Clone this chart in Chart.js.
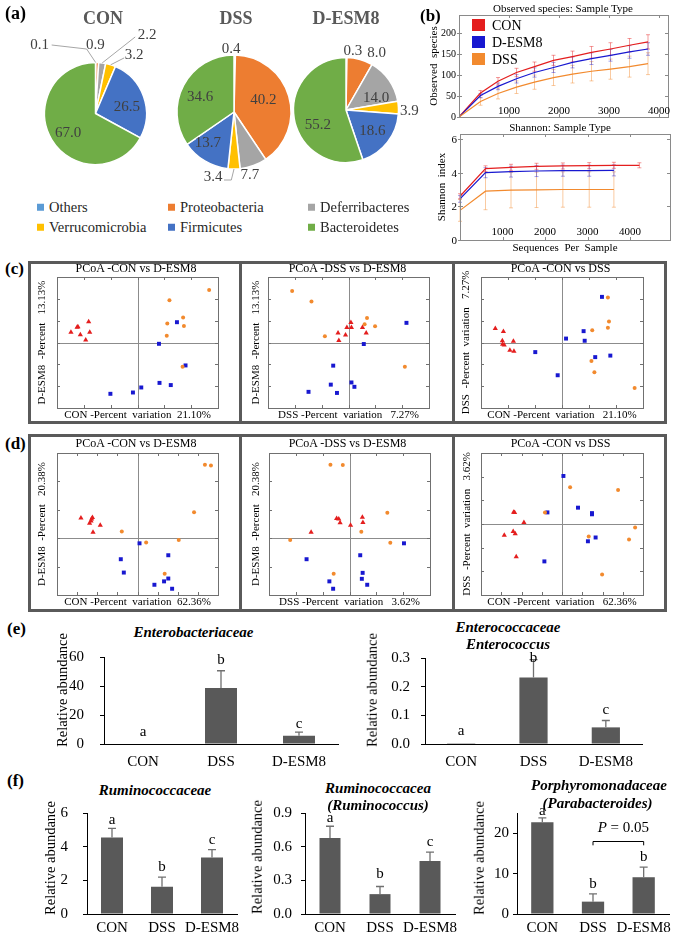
<!DOCTYPE html>
<html>
<head>
<meta charset="utf-8">
<title>Gut microbiota</title>
<script src="https://cdn.jsdelivr.net/npm/chart.js@4.4.1/dist/chart.umd.min.js"></script>
<style>
  html,body{margin:0;padding:0;background:#fff}
  #fig{position:relative;width:685px;height:936px;overflow:hidden;background:#fff;font-family:"Liberation Serif","Times New Roman",serif;color:#000}
  #fig canvas{position:absolute}
  .t{position:absolute;white-space:nowrap;transform:translate(-50%,-50%);line-height:1}
  .yt{position:absolute;white-space:nowrap;line-height:1;transform:translate(-100%,-50%);z-index:10;color:#000}
  .tag{position:absolute;font-weight:bold;font-size:17px;line-height:1;transform:translateY(-50%)}
  .box{position:absolute;border:3px solid #5a5a5a;box-sizing:border-box}
  .sep{position:absolute;width:3px;background:#5a5a5a}
  .lg{position:absolute;font-size:14.5px;line-height:1;white-space:nowrap;color:#262626;transform:translateY(-50%)}
  .lg i{display:inline-block;width:7px;height:7px;margin-right:5px;vertical-align:1px}
  .lb{position:absolute;font-size:14px;line-height:1;white-space:nowrap;transform:translateY(-50%)}
  .lb i{display:inline-block;width:13px;height:12px;margin-right:7px;vertical-align:-1px}
</style>
</head>
<body>
<div id="fig"></div>
<script>
// ---------- (a) phylum composition ----------
const phyla = ["Others","Proteobacteria","Deferribacteres","Verrucomicrobia","Firmicutes","Bacteroidetes"];
const pieCON  = [0.1, 0.9, 2.2, 3.2, 26.5, 67.0];
const pieDSS  = [0.4, 40.2, 7.7, 3.4, 13.7, 34.6];
const pieESM8 = [0.3, 8.0, 14.0, 3.9, 18.6, 55.2];

// ---------- (b) rarefaction ----------
const obsX   = [0, 430, 780, 1150, 1510, 1890, 2270, 2650, 3030, 3410, 3780];
const obsCON = [0, 57, 85, 106, 120, 135, 144, 154, 162, 171, 179];
const obsESM = [0, 51, 73, 91, 106, 118, 130, 139, 147, 155, 162];
const obsDSS = [0, 37, 56, 71, 83, 94, 102, 109, 114, 120, 127];
const obsCONerr = [0, 6, 9, 10, 11, 12, 13, 14, 15, 16, 17];
const obsESMerr = [0, 5, 8, 10, 11, 12, 13, 14, 14, 15, 15];
const obsDSSerr = [0, 9, 13, 15, 17, 19, 21, 23, 24, 25, 26];
const obsXTicks = [1000, 2000, 3000, 4000];
const obsYTicks = [0, 50, 100, 150, 200];

const shX   = [0, 600, 1200, 1800, 2420, 3040, 3620, 4220];
const shCON = [2.6, 4.24, 4.32, 4.38, 4.4, 4.42, 4.44, 4.44];
const shESM = [2.44, 4.0, 4.06, 4.1, 4.12, 4.12, 4.14];
const shDSS = [1.76, 2.9, 2.96, 2.98, 3.0, 3.0, 3.0];
const shCONerr = [0.15, 0.17, 0.18, 0.18, 0.18, 0.18, 0.18, 0.15];
const shESMerr = [0.2, 0.3, 0.32, 0.33, 0.33, 0.33, 0.33];
const shDSSerr = [0.65, 1.1, 1.05, 1.05, 1.05, 1.05, 1.05];
const shXTicks = [1000, 2000, 3000, 4000];
const shYTicks = [0, 2, 4, 6];

// ---------- (c) PCoA, unweighted ----------
const c1CON = [[-0.248,0.047],[-0.222,0.072],[-0.225,0.070],[-0.182,0.095],[-0.213,0.035],[-0.178,0.047],[-0.193,0.012]];
const c1ESM = [[0.147,0.093],[0.080,-0.006],[0.179,-0.105],[0.082,-0.185],[0.124,-0.195],[0.014,-0.206],[-0.017,-0.229],[-0.101,-0.235]];
const c1DSS = [[0.267,0.241],[0.119,0.194],[0.170,0.115],[0.111,0.087],[0.173,0.076],[0.109,0.031],[0.168,-0.111]];
const c2CON = [[-0.039,0.044],[-0.036,0.009],[-0.011,0.034],[-0.006,0.069],[0.009,0.092],[0.011,0.069],[0.052,0.069],[0.066,0.044]];
const c2ESM = [[-0.057,-0.106],[-0.066,-0.193],[-0.149,-0.226],[-0.043,-0.231],[0.216,0.090],[0.057,-0.007],[0.011,-0.183],[0.022,-0.203]];
const c2DSS = [[-0.210,0.236],[-0.138,0.188],[-0.088,0.029],[0.069,0.112],[0.060,0.084],[0.099,0.075],[0.210,-0.111]];
const c3CON = [[-0.247,0.064],[-0.217,0.050],[-0.221,0.008],[-0.220,-0.008],[-0.214,-0.012],[-0.180,0.006],[-0.193,-0.035],[-0.178,-0.040]];
const c3ESM = [[-0.099,-0.044],[-0.016,-0.150],[0.015,0.018],[0.080,0.052],[0.084,0.008],[0.148,0.209],[0.123,-0.067],[0.179,-0.060]];
const c3DSS = [[0.170,0.206],[0.174,0.096],[0.170,0.067],[0.112,0.056],[0.109,-0.085],[0.120,-0.136],[0.269,-0.208]];

// ---------- (d) PCoA, weighted ----------
const d1CON = [[-0.281,0.071],[-0.238,0.053],[-0.231,0.061],[-0.224,0.073],[-0.228,0.068],[-0.185,0.046],[-0.221,0.021]];
const d1ESM = [[0.010,-0.018],[0.153,-0.060],[-0.083,-0.074],[-0.068,-0.121],[0.153,-0.142],[0.132,-0.152],[0.084,-0.164],[0.172,-0.178]];
const d1DSS = [[0.335,0.259],[0.365,0.256],[0.281,0.091],[0.205,-0.006],[0.043,-0.015],[-0.078,0.024],[0.135,-0.125]];
const d2CON = [[-0.048,0.069],[-0.040,0.068],[-0.035,0.054],[-0.143,0.021],[0.004,0.046],[0.048,0.074],[0.050,0.055]];
const d2ESM = [[-0.160,-0.074],[-0.075,-0.152],[-0.061,-0.178],[0.203,-0.018],[0.040,-0.060],[0.049,-0.122],[0.046,-0.143],[0.066,-0.164]];
const d2DSS = [[-0.071,0.259],[-0.025,0.258],[-0.221,-0.006],[-0.059,-0.125],[0.141,0.090],[0.044,0.023],[0.152,-0.016]];
const d3CON = [[-0.234,0.049],[-0.239,0.050],[-0.188,0.006],[-0.285,-0.048],[-0.241,-0.032],[-0.231,-0.041],[-0.226,-0.138]];
const d3ESM = [[-0.072,0.049],[-0.087,-0.158],[0.007,0.203],[0.079,0.069],[0.148,0.046],[0.148,0.041],[0.128,-0.073],[0.166,-0.057]];
const d3DSS = [[-0.084,0.049],[0.040,0.155],[0.277,0.144],[0.132,-0.053],[0.331,-0.066],[0.361,-0.015],[0.198,-0.213]];

// ---------- (e)/(f) relative abundance ----------
const barCats = ["CON","DSS","D-ESM8"];
const enterobac = [0.3, 38.8, 5.7],      enterobacErr = [0, 12.0, 2.5],      enterobacLet = ["a","b","c"];
const enterococ = [0.003, 0.232, 0.058], enterococErr = [0, 0.062, 0.024],   enterococLet = ["a","b","c"];
const rumino    = [4.56, 1.62, 3.36],    ruminoErr = [0.54, 0.58, 0.48],     ruminoLet = ["a","b","c"];
const ruminoG   = [0.678, 0.177, 0.472], ruminoGErr = [0.104, 0.068, 0.08],  ruminoGLet = ["a","b","c"];
const parabac   = [22.7, 3.06, 9.1],     parabacErr = [1.1, 1.9, 2.5],       parabacLet = ["a","b","b"];

// ---------- styles ----------
const phylaColors = ["#5B9BD5","#ED7D31","#A5A5A5","#FFC000","#4472C4","#70AD47"];
const cRed = "#E41E1E", cBlue = "#1818D0", cOrange = "#F28A2E";
const SERIF = '"Liberation Serif","Times New Roman",serif';

Chart.defaults.font.family = SERIF;
Chart.defaults.color = "#000";
Chart.defaults.animation = false;
Chart.defaults.responsive = false;
Chart.defaults.events = [];
Chart.defaults.plugins.legend.display = false;
Chart.defaults.plugins.tooltip.enabled = false;

const fig = document.getElementById("fig");
function canvasAt(r){
  const c = document.createElement("canvas");
  c.width = r.w; c.height = r.h;
  c.style.left = r.l+"px"; c.style.top = r.t+"px";
  c.style.width = r.w+"px"; c.style.height = r.h+"px";
  fig.appendChild(c);
  return c;
}
function text(s, x, y, css, cls){
  const d = document.createElement("div");
  d.className = cls || "t";
  d.style.left = x+"px"; d.style.top = y+"px";
  if (css) d.style.cssText += css;
  d.textContent = s;
  fig.appendChild(d);
}
function el(cls, css, html){
  const d = document.createElement("div");
  d.className = cls; d.style.cssText = css; if (html) d.innerHTML = html;
  fig.appendChild(d);
}
// pin scale sizes so the plot area lands where it should
const zeroPad = s => { s.paddingLeft = s.paddingRight = s.paddingTop = s.paddingBottom = 0; };
const fixW = w => s => { s.width = w; zeroPad(s); };
const fixH = h => s => { s.height = h; zeroPad(s); };
const useTicks = arr => s => { s.ticks = arr.map(v => ({value:v})); };
const pts = a => a.map(p => ({x:p[0], y:p[1]}));
const xy = (xs, ys) => ys.map((v,i) => ({x:xs[i], y:v}));

// ---------- plugins ----------
const pieLabels = {
  id:"pieLabels",
  afterDatasetsDraw(chart){
    const ds = chart.data.datasets[0], cfg = ds.lbl, ctx = chart.ctx;
    ctx.save();
    ctx.font = "15px "+SERIF; ctx.fillStyle = "#404040";
    ctx.textAlign = "center"; ctx.textBaseline = "middle";
    ctx.strokeStyle = "#a6a6a6"; ctx.lineWidth = 1;
    chart.getDatasetMeta(0).data.forEach((arc,i) => {
      const it = cfg[i];
      const p = arc.getProps(["x","y","startAngle","endAngle","outerRadius"], true);
      const a = (p.startAngle+p.endAngle)/2;
      const tx = p.x + Math.cos(a)*p.outerRadius*it.f + it.dx;
      const ty = p.y + Math.sin(a)*p.outerRadius*it.f + it.dy;
      if (it.to){
        const ex = p.x + Math.cos(a)*p.outerRadius, ey = p.y + Math.sin(a)*p.outerRadius;
        ctx.beginPath(); ctx.moveTo(ex, ey);
        if (it.via) ctx.lineTo(ex+it.via[0], ey+it.via[1]);
        ctx.lineTo(tx+it.to[0], ty+it.to[1]); ctx.stroke();
      }
      ctx.fillText(ds.data[i].toFixed(1), tx, ty);
    });
    ctx.restore();
  }
};

// box around the plot, inward ticks, optional zero cross and in-frame x labels
const frame = {
  id:"frame",
  afterDatasetsDraw(chart, args, o){
    const {ctx, chartArea:ca, scales:{x, y}} = chart;
    ctx.save();
    ctx.lineWidth = 1;
    ctx.strokeStyle = o.color || "#7a7a7a";
    ctx.strokeRect(Math.round(ca.left)+0.5, Math.round(ca.top)+0.5, Math.round(ca.width), Math.round(ca.height));
    const L = 3;
    ctx.beginPath();
    x.ticks.forEach(t => { const p = Math.round(x.getPixelForValue(t.value))+0.5;
      ctx.moveTo(p, ca.bottom); ctx.lineTo(p, ca.bottom-L); ctx.moveTo(p, ca.top); ctx.lineTo(p, ca.top+L); });
    y.ticks.forEach(t => { const p = Math.round(y.getPixelForValue(t.value))+0.5;
      ctx.moveTo(ca.left, p); ctx.lineTo(ca.left+L, p); ctx.moveTo(ca.right, p); ctx.lineTo(ca.right-L, p);
      if (o.labels){ ctx.moveTo(ca.left, p); ctx.lineTo(ca.left-2, p); } });
    ctx.stroke();
    if (o.labels){
      ctx.fillStyle = "#000"; ctx.textBaseline = "middle";
      ctx.font = "11px "+SERIF; ctx.textAlign = "center";
      x.ticks.forEach(t => ctx.fillText(String(t.value), x.getPixelForValue(t.value), ca.bottom - o.xDy));
    }
    ctx.restore();
  },
  beforeDatasetsDraw(chart, args, o){
    if (!o.cross) return;
    const {ctx, chartArea:ca, scales:{x, y}} = chart;
    ctx.save();
    ctx.lineWidth = 1; ctx.strokeStyle = "#8c8c8c";
    const px = Math.round(x.getPixelForValue(0))+0.5, py = Math.round(y.getPixelForValue(0))+0.5;
    ctx.beginPath();
    ctx.moveTo(px, ca.top); ctx.lineTo(px, ca.bottom);
    ctx.moveTo(ca.left, py); ctx.lineTo(ca.right, py);
    ctx.stroke();
    ctx.restore();
  }
};

const lineErr = {
  id:"lineErr",
  beforeDatasetsDraw(chart){
    const {ctx, scales:{y}} = chart;
    ctx.save(); ctx.lineWidth = 1;
    chart.data.datasets.forEach((ds, i) => {
      ctx.strokeStyle = ds.errColor;
      chart.getDatasetMeta(i).data.forEach((pt, j) => {
        const e = ds.err[j]; if (!e) return;
        const v = ds.data[j].y;
        const t = y.getPixelForValue(v+e), b = y.getPixelForValue(Math.max(v-e, y.min));
        ctx.beginPath();
        ctx.moveTo(pt.x, t); ctx.lineTo(pt.x, b);
        ctx.moveTo(pt.x-2, t); ctx.lineTo(pt.x+2, t);
        ctx.moveTo(pt.x-2, b); ctx.lineTo(pt.x+2, b);
        ctx.stroke();
      });
    });
    ctx.restore();
  }
};

const barMarks = {
  id:"barMarks",
  afterDatasetsDraw(chart){
    const {ctx, scales:{y}} = chart;
    const ds = chart.data.datasets[0], meta = chart.getDatasetMeta(0);
    ctx.save();
    ctx.strokeStyle = "#707070"; ctx.lineWidth = 1.3;
    ctx.font = "15px "+SERIF; ctx.fillStyle = "#000"; ctx.textAlign = "center"; ctx.textBaseline = "middle";
    meta.data.forEach((b, i) => {
      const top = y.getPixelForValue(ds.data[i] + ds.err[i]);
      if (ds.err[i] > 0){
        ctx.beginPath();
        ctx.moveTo(b.x, b.y); ctx.lineTo(b.x, top);
        ctx.moveTo(b.x-4, top); ctx.lineTo(b.x+4, top);
        ctx.stroke();
      }
      ctx.fillText(ds.letters[i], b.x, top - ds.gap[i]);
    });
    const br = ds.bracket;
    if (br){
      const x1 = meta.data[br.from].x, x2 = meta.data[br.to].x;
      const yb = Math.round(y.getPixelForValue(br.y))+0.5, yd = y.getPixelForValue(br.y-br.drop);
      ctx.strokeStyle = "#000"; ctx.lineWidth = 1;
      ctx.beginPath(); ctx.moveTo(x1, yd); ctx.lineTo(x1, yb); ctx.lineTo(x2, yb); ctx.lineTo(x2, yd); ctx.stroke();
      const ty = y.getPixelForValue(br.ty);
      ctx.textAlign = "left";
      ctx.font = "italic 15px "+SERIF; const w1 = ctx.measureText(br.italic).width;
      ctx.font = "15px "+SERIF; const w2 = ctx.measureText(br.rest).width;
      const sx = (x1+x2)/2 + br.shift - (w1+w2)/2;
      ctx.font = "italic 15px "+SERIF; ctx.fillText(br.italic, sx, ty);
      ctx.font = "15px "+SERIF; ctx.fillText(br.rest, sx+w1, ty);
    }
    ctx.restore();
  }
};

// ---------- (a) pies ----------
const conLbl = [
  {f:1, dx:-56, dy:-17.5, via:[-9,-13.5], to:[12,0]},
  {f:1, dx:-2, dy:-17},
  {f:1, dx:45, dy:-28, to:[-12,2]},
  {f:1, dx:23.5, dy:-9.9, to:[-10,3]},
  {f:.6, dx:2.5, dy:3.4},
  {f:.6, dx:-1, dy:3.8}
];
const dssLbl = [
  {f:1, dx:-3.5, dy:-6},
  {f:.6, dx:-3.5, dy:-2.5},
  {f:1, dx:-3.5, dy:9.5},
  {f:1, dx:-21, dy:8, via:[-2.7,11], to:[11,3]},
  {f:.6, dx:-8.5, dy:1.6},
  {f:.6, dx:-3.5, dy:0.9}
];
const esmLbl = [
  {f:1, dx:6.5, dy:-6},
  {f:1, dx:16.6, dy:-6},
  {f:.6, dx:4.4, dy:6.5},
  {f:1, dx:11, dy:3.5},
  {f:.6, dx:1.4, dy:2},
  {f:.6, dx:3, dy:9.7}
];

function pie(rect, g, values, lbl){
  const c = canvasAt(rect);
  const b = 0.75; // half border width
  new Chart(c, {
    type:"pie",
    data:{labels:phyla, datasets:[{data:values, lbl, backgroundColor:phylaColors, borderColor:"#fff", borderWidth:1.5, hoverOffset:0}]},
    options:{layout:{padding:{
      left:g.cx-g.r-b-rect.l, top:g.cy-g.r-b-rect.t,
      right:rect.l+rect.w-g.cx-g.r-b, bottom:rect.t+rect.h-g.cy-g.r-b}}},
    plugins:[pieLabels]
  });
}
pie({l:25, t:20, w:140, h:160}, {cx:95.5, cy:113.5, r:51}, pieCON, conLbl);
pie({l:165, t:20, w:135, h:165}, {cx:234, cy:112, r:57}, pieDSS, dssLbl);
pie({l:285, t:20, w:135, h:150}, {cx:346, cy:110, r:52.5}, pieESM8, esmLbl);

el("tag", "left:5px;top:13px;font-size:18px", "(a)");
text("CON", 103, 18, "font-weight:bold;font-size:18px;color:#595959");
text("DSS", 236, 18, "font-weight:bold;font-size:18px;color:#595959");
text("D-ESM8", 346, 18, "font-weight:bold;font-size:18px;color:#595959");
const lgCols = [37, 168, 308], lgRows = [207, 227];
phyla.forEach((p, i) => {
  el("lg", `left:${lgCols[i%3]}px;top:${lgRows[Math.floor(i/3)]}px`, `<i style="background:${phylaColors[i]}"></i>${p}`);
});

// ---------- (b) rarefaction curves ----------
function rare(rect, plot, xmax, ymax, xTicks, yTicks, series, yTitle, yTitlePad, xTitle, xDy, yFont){
  const c = canvasAt(rect);
  const ch = new Chart(c, {
    type:"line",
    data:{datasets:series.map(s => ({data:s.data, err:s.err, errColor:s.errColor, borderColor:s.color, borderWidth:1.2, pointRadius:0, tension:0, fill:false}))},
    options:{
      layout:{padding:{left:0, bottom:0, top:plot.t-rect.t, right:rect.l+rect.w-plot.r}},
      scales:{
        x:{type:"linear", min:0, max:xmax,
           ticks:{display:false},
           afterBuildTicks:useTicks(xTicks),
           grid:{display:false, drawTicks:false}, border:{display:false},
           title:{display:!!xTitle, text:xTitle, font:{size:11}, padding:{top:0, bottom:0.5}},
           afterFit:fixH(rect.t+rect.h-plot.b)},
        y:{min:0, max:ymax,
           ticks:{display:false},
           afterBuildTicks:useTicks(yTicks),
           grid:{display:false, drawTicks:false}, border:{display:false},
           title:{display:true, text:yTitle, font:{size:11}, padding:{top:yTitlePad, bottom:0}},
           afterFit:fixW(plot.l-rect.l)}
      },
      plugins:{frame:{color:"#8a8a8a", labels:true, xDy:xDy}}
    },
    plugins:[frame, lineErr]
  });
  return ch;
}
const obsChart = rare({l:420, t:12, w:265, h:118}, {l:459, t:15, r:668, b:117}, 4180, 243, obsXTicks, obsYTicks, [
  {data:xy(obsX, obsDSS), err:obsDSSerr, color:cOrange, errColor:"rgba(242,138,46,.45)"},
  {data:xy(obsX, obsESM), err:obsESMerr, color:cBlue,   errColor:"rgba(24,24,208,.4)"},
  {data:xy(obsX, obsCON), err:obsCONerr, color:cRed,    errColor:"rgba(228,30,30,.45)"}
], "Observed  species", 7.5, "", 5.5);
const shChart = rare({l:420, t:130, w:265, h:125}, {l:460, t:134, r:670, b:240}, 4940, 6.3, shXTicks, shYTicks, [
  {data:xy(shX, shDSS), err:shDSSerr, color:cOrange, errColor:"rgba(242,138,46,.45)"},
  {data:xy(shX, shESM), err:shESMerr, color:cBlue,   errColor:"rgba(24,24,208,.4)"},
  {data:xy(shX, shCON), err:shCONerr, color:cRed,    errColor:"rgba(228,30,30,.45)"}
], "Shannon  index", 15.4, "Sequences  Per  Sample", 8);

// y tick labels of (b), placed from each chart's own y scale
function yLabels(ch, left, top, values, size){
  const ys = ch.scales.y;
  values.forEach(v => text(String(v), left + ch.chartArea.left - 3, top + ys.getPixelForValue(v), `font-size:${size}px`, "yt"));
}
yLabels(obsChart, 420, 12, obsYTicks, 10);
yLabels(shChart, 420, 130, shYTicks, 11);

el("tag", "left:420px;top:15px", "(b)");
text("Observed  species:  Sample  Type", 563, 8, "font-size:11px");
text("Shannon:  Sample  Type", 560, 127, "font-size:11px");
[["CON", cRed, 26], ["D-ESM8", cBlue, 43], ["DSS", cOrange, 60]].forEach(([n, col, y]) => {
  el("lb", `left:472px;top:${y}px`, `<i style="background:${col}"></i>${n}`);
});

// ---------- (c)/(d) PCoA ----------
function pcoa(rect, plot, xr, yr, xTitle, yTitle, yPad, xPad, con, esm, dss){
  const c = canvasAt(rect);
  new Chart(c, {
    type:"scatter",
    data:{datasets:[
      {data:pts(dss), pointStyle:"circle",   pointRadius:2,   backgroundColor:cOrange, borderWidth:0},
      {data:pts(esm), pointStyle:"rect",     pointRadius:2.8, backgroundColor:cBlue,   borderWidth:0},
      {data:pts(con), pointStyle:"triangle", pointRadius:3,   backgroundColor:cRed,    borderWidth:0}
    ]},
    options:{
      layout:{padding:{left:0, bottom:0, top:plot.t-rect.t, right:rect.l+rect.w-plot.r}},
      scales:{
        x:{type:"linear", min:xr[0], max:xr[1], ticks:{display:false, stepSize:0.1, includeBounds:false},
           grid:{display:false}, border:{display:false},
           title:{display:true, text:xTitle, font:{size:11}, padding:{top:0, bottom:xPad}},
           afterFit:fixH(rect.t+rect.h-plot.b)},
        y:{type:"linear", min:yr[0], max:yr[1], ticks:{display:false, stepSize:0.1, includeBounds:false},
           grid:{display:false}, border:{display:false},
           title:{display:true, text:yTitle, font:{size:11}, padding:{top:yPad, bottom:0}},
           afterFit:fixW(plot.l-rect.l)}
      },
      plugins:{frame:{cross:true, color:"#707070"}}
    },
    plugins:[frame]
  });
}
// frames
el("box", "left:28px;top:261px;width:639px;height:163px");
el("sep", "left:239px;top:261px;height:163px");
el("sep", "left:452px;top:261px;height:163px");
el("box", "left:28px;top:434px;width:639px;height:178px");
el("sep", "left:239px;top:434px;height:178px");
el("sep", "left:452px;top:434px;height:178px");
el("tag", "left:5px;top:268px", "(c)");
el("tag", "left:5px;top:443px", "(d)");

const C = [-0.3, 0.3], D4 = [-0.4, 0.4], DY = [-0.2, 0.3];
pcoa({l:31, t:264, w:208, h:158}, {l:57, t:277, r:218, b:408}, C, C,
  "CON -Percent  variation  21.10%", "D-ESM8  -Percent   13.13%", 4.1, 0.4, c1CON, c1ESM, c1DSS);
pcoa({l:244, t:264, w:208, h:158}, {l:268, t:277, r:429, b:408}, C, C,
  "DSS -Percent  variation   7.27%", "D-ESM8  -Percent   13.13%", 5.1, 0.4, c2CON, c2ESM, c2DSS);
pcoa({l:457, t:264, w:208, h:158}, {l:481, t:277, r:643, b:408}, C, C,
  "CON -Percent  variation   21.10%", "DSS  -Percent  variation   7.27%", 2.1, 0.4, c3CON, c3ESM, c3DSS);
pcoa({l:31, t:437, w:208, h:173}, {l:57, t:453, r:218, b:595}, D4, DY,
  "CON -Percent  variation  62.36%", "D-ESM8  -Percent   20.38%", 4.9, 1.4, d1CON, d1ESM, d1DSS);
pcoa({l:244, t:437, w:208, h:173}, {l:269, t:453, r:430, b:595}, C, DY,
  "DSS -Percent  variation   3.62%", "D-ESM8  -Percent   20.38%", 5.2, 1.4, d2CON, d2ESM, d2DSS);
pcoa({l:457, t:437, w:208, h:173}, {l:481, t:453, r:643, b:595}, D4, C,
  "CON -Percent  variation   62.36%", "DSS  -Percent  variation   3.62%", 3.1, 1.4, d3CON, d3ESM, d3DSS);
[["PCoA -CON vs D-ESM8", 136], ["PCoA -DSS vs D-ESM8", 347.5], ["PCoA -CON vs DSS", 560.5]].forEach(([s, x]) => {
  text(s, x, 268, "font-size:12px");
  text(s, x, 443, "font-size:12px");
});

// ---------- (e)/(f) bars ----------
function bars(rect, plot, vals, errs, letters, gap, ymax, ystep, dec, barPct, yTickPad, xTickPad, bracket){
  const c = canvasAt(rect);
  new Chart(c, {
    type:"bar",
    data:{labels:barCats, datasets:[{data:vals, err:errs, letters, gap, bracket,
      backgroundColor:"#595959", barPercentage:barPct, categoryPercentage:1}]},
    options:{
      layout:{padding:{left:0, bottom:0, top:plot.t-rect.t, right:rect.l+rect.w-plot.r}},
      scales:{
        x:{grid:{display:false, drawTicks:false}, border:{color:"#000", width:1},
           ticks:{font:{size:15}, padding:xTickPad, maxRotation:0, minRotation:0, autoSkip:false},
           afterFit:fixH(rect.t+rect.h-plot.b)},
        y:{min:0, max:ymax,
           ticks:{stepSize:ystep, font:{size:15}, padding:yTickPad, callback:v => v.toFixed(dec)},
           grid:{drawOnChartArea:false, tickLength:4, color:"#000"}, border:{color:"#000", width:1},
           afterFit:fixW(plot.l-rect.l)}
      }
    },
    plugins:[barMarks]
  });
}
bars({l:52, t:640, w:300, h:132}, {l:104, t:657.5, r:338, b:744}, enterobac, enterobacErr, enterobacLet, [12, 11, 8],
  60, 20, 0, 0.41, 16, 9);
bars({l:363, t:640, w:300, h:132}, {l:425, t:658, r:642, b:744}, enterococ, enterococErr, enterococLet, [12, 2, 10.5],
  0.3, 0.1, 1, 0.39, 11, 9);
bars({l:41, t:800, w:200, h:136}, {l:87, t:813.3, r:237, b:914}, rumino, ruminoErr, ruminoLet, [8.4, 10, 9.6],
  6, 2, 0, 0.44, 15, 5);
bars({l:248, t:800, w:210, h:136}, {l:305, t:813, r:455, b:914}, ruminoG, ruminoGErr, ruminoGLet, [8.3, 12, 10],
  0.9, 0.3, 1, 0.42, 9, 5);
bars({l:469, t:800, w:210, h:136}, {l:517, t:813, r:669, b:914}, parabac, parabacErr, parabacLet, [7, 10, 10],
  25, 5, 0, 0.44, 4, 5,
  {from:1, to:2, y:18, drop:1, ty:21.3, italic:"P", rest:" = 0.05", shift:5});

const bi = "font-weight:bold;font-style:italic;font-size:15px";
const ra = "font-size:14.5px;transform:translate(-50%,-50%) rotate(-90deg)";
el("tag", "left:7px;top:628px", "(e)");
el("tag", "left:7px;top:780px", "(f)");
text("Enterobacteriaceae", 193.5, 632, bi);
text("Enterococcaceae", 508, 627, bi);
text("Enterococcus", 508, 644, bi);
text("Ruminococcaceae", 155, 790, bi);
text("Ruminococcacea", 378, 788, bi);
text("(Ruminococcus)", 378, 805, bi);
text("Porphyromonadaceae", 599, 785, bi);
text("(Parabacteroides)", 597.5, 803, bi);
text("Relative abundance", 62, 690, ra);
text("Relative abundance", 372, 690, ra);
text("Relative abundance", 50, 858, ra);
text("Relative abundance", 257, 857, ra);
text("Relative abundance", 478.5, 858, ra);
</script>
</body>
</html>
